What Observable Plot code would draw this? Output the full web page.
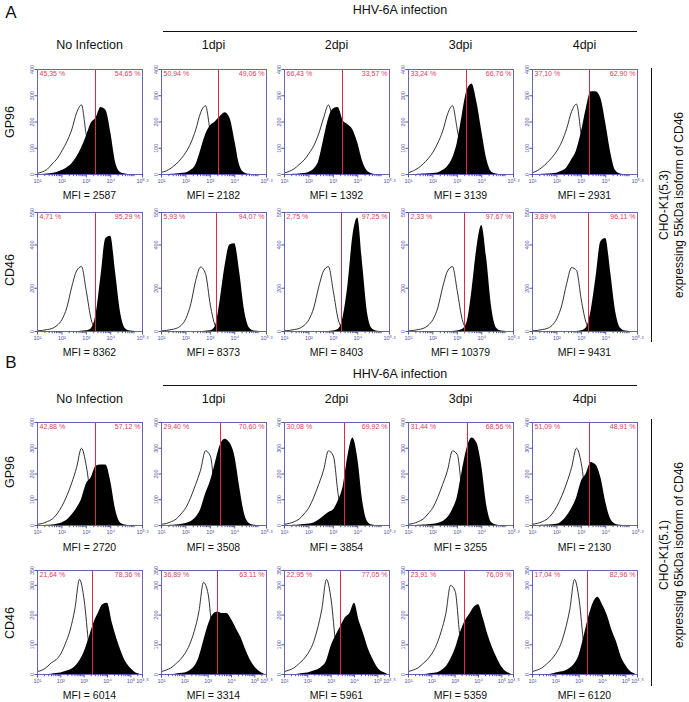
<!DOCTYPE html>
<html><head><meta charset="utf-8">
<script src="https://cdn.jsdelivr.net/npm/d3@7"></script>
<script src="https://cdn.jsdelivr.net/npm/@observablehq/plot@0.6"></script>
<style>
body{margin:0;background:#fff;font-family:"Liberation Sans",Arial,sans-serif;}
#fig{position:relative;width:689px;height:702px;overflow:hidden;background:#fff;}
.t{position:absolute;white-space:nowrap;color:#111;line-height:1;transform:translate(-50%,-50%);}
.r{transform:translate(-50%,-50%) rotate(-90deg);}
.hl{position:absolute;background:#111;}
svg.p{position:absolute;overflow:visible;}
</style></head><body><div id="fig"></div><script>
// ---- data ----
const grid = [1.0,1.2,1.4,1.6,1.8,2.0,2.2,2.4,2.6,2.8,3.0,3.2,3.4,3.6,3.8,4.0,4.2,4.4,4.6,4.8,5.0,5.2,5.4];
const columns = ["No Infection","1dpi","2dpi","3dpi","4dpi"];
const markers = ["GP96","CD46"];
const sections = ["A","B"];
const cellLines = [["CHO-K1(5.3)","expressing 55kDa isoform of CD46"],["CHO-K1(5.1)","expressing 65kDa isoform of CD46"]];
const infectionLabel = "HHV-6A infection";

// A, GP96
const openA_GP96 = [
 [5,10,20,40,60,90,125,170,235,265,150,75,30,8,2,0],
 [8,14,25,40,60,85,120,170,235,262,160,60,18,5,1,0],
 [6,12,22,38,55,80,110,155,215,265,190,80,25,6,1,0],
 [7,14,25,40,60,85,120,165,230,262,170,70,20,5,1,0],
 [7,15,28,45,65,90,125,175,240,268,150,60,18,5,1,0]];
const fillA_GP96 = [
 [0,0,2,4,8,15,25,40,65,100,145,195,215,255,245,160,45,8,2,0,0,0,0],
 [0,0,1,2,4,6,15,35,90,150,185,200,220,235,215,130,35,6,1,0,0,0,0],
 [0,0,1,2,4,8,20,50,130,210,250,255,205,190,170,120,50,12,2,0,0,0,0],
 [0,0,1,2,3,4,6,15,30,60,120,225,320,345,275,165,60,10,2,0,0,0,0],
 [0,0,1,2,3,5,12,25,55,90,160,250,315,315,290,195,85,15,2,0,0,0,0]];
// A, CD46
const openA_CD46 = [
 [3,5,9,14,28,55,110,205,280,300,185,55,11,2,0],
 [3,5,9,14,28,60,128,235,298,268,122,28,6,1,0],
 [3,5,9,14,28,55,110,205,280,300,185,55,11,2,0],
 [3,5,9,14,28,55,110,205,280,300,185,55,11,2,0],
 [3,5,9,14,28,60,122,222,295,283,145,39,7,1,0]];
const fillA_CD46 = [
 [0,0,0,0,0,0,0,0,0,1,3,13,78,255,430,440,270,88,13,2,0,0,0],
 [0,0,0,0,0,0,0,0,0,1,3,22,140,300,400,405,275,97,16,2,0,0,0],
 [0,0,0,0,0,0,0,0,0,0,2,9,65,215,440,525,310,85,11,1,0,0,0],
 [0,0,0,0,0,0,0,0,0,0,2,9,43,190,385,490,340,115,16,2,0,0,0],
 [0,0,0,0,0,0,0,0,0,0,3,16,95,250,415,430,275,95,16,2,0,0,0]];
// B, GP96
const openB_GP96 = [
 [5,8,15,25,45,75,115,165,225,300,230,100,30,8,2,0],
 [5,8,15,25,45,70,110,160,215,290,270,120,35,8,2,0],
 [5,8,15,25,45,70,110,160,215,290,270,120,35,8,2,0],
 [5,8,15,25,45,70,110,160,215,290,275,125,35,8,2,0],
 [5,8,15,25,45,75,115,165,225,300,240,100,30,8,2,0]];
const fillB_GP96 = [
 [0,0,1,2,5,10,20,40,65,100,160,185,230,235,235,170,60,10,2,0,0,0,0],
 [0,0,1,2,4,8,15,30,60,120,170,240,310,335,320,270,150,45,8,1,0,0,0],
 [0,0,1,2,4,6,10,20,35,50,60,95,150,270,340,260,95,15,2,0,0,0,0],
 [0,0,1,2,3,5,8,15,30,60,110,210,300,340,320,230,80,12,2,0,0,0,0],
 [0,0,1,2,3,5,15,35,65,105,170,200,245,235,185,90,25,5,1,0,0,0,0]];
// B, CD46
const openB_CD46 = [
 [10,15,25,40,50,70,105,150,220,320,250,100,25,5,1,0],
 [10,15,22,35,50,70,100,145,210,310,270,120,30,6,1,0],
 [10,15,22,35,50,70,100,150,220,320,250,100,25,5,1,0],
 [10,15,22,35,50,70,100,145,205,300,280,130,35,6,1,0],
 [10,15,22,35,50,70,100,150,220,320,250,100,25,5,1,0]];
const fillB_CD46 = [
 [0,0,0,1,3,5,10,15,25,45,75,120,170,205,235,240,175,120,75,40,20,6,1],
 [0,0,0,1,3,5,12,25,55,110,165,200,210,205,205,185,155,125,85,50,25,10,2],
 [0,0,0,1,3,5,10,15,25,45,95,130,160,190,205,240,180,135,85,50,22,8,2],
 [0,0,0,0,1,3,5,12,25,50,85,135,175,200,225,235,190,135,90,55,25,8,2],
 [0,0,0,0,1,5,8,12,20,35,65,125,190,240,260,235,200,150,110,60,30,10,2]];

const pctA_GP96 = [["45,35 %","54,65 %"],["50,94 %","49,06 %"],["66,43 %","33,57 %"],["33,24 %","66,76 %"],["37,10 %","62,90 %"]];
const pctA_CD46 = [["4,71 %","95,29 %"],["5,93 %","94,07 %"],["2,75 %","97,25 %"],["2,33 %","97,67 %"],["3,89 %","96,11 %"]];
const pctB_GP96 = [["42,88 %","57,12 %"],["29,40 %","70,60 %"],["30,08 %","69,92 %"],["31,44 %","68,56 %"],["51,09 %","48,91 %"]];
const pctB_CD46 = [["21,64 %","78,36 %"],["36,89 %","63,11 %"],["22,95 %","77,05 %"],["23,91 %","76,09 %"],["17,04 %","82,96 %"]];

const mfiA_GP96 = [2587,2182,1392,3139,2931];
const mfiA_CD46 = [8362,8373,8403,10379,9431];
const mfiB_GP96 = [2720,3508,3854,3255,2130];
const mfiB_CD46 = [6014,3314,5961,5359,6120];

// gate position (log10 fluorescence) of the red marker
const gateA_GP96 = [3.37,3.35,3.38,3.38,3.34];
const gateA_CD46 = [3.37,3.25,3.34,3.30,3.30];
const gateB_GP96 = [3.38,3.42,3.46,3.42,3.34];
const gateB_CD46 = [3.36,3.40,3.41,3.40,3.36];

const yTicksGP96 = [0,100,200,300,400];
const yTicksA_CD46 = [0,200,400,550];
const yTicksB_CD46 = [0,100,200,300,350];
const xMaxA = 5.3, xMaxB2 = 5.5;

// ---- layout ----
const RED = "#e23c5c", RULE = "#dc2a44", BLUE = "#6666b0", BLUE_T = "#5252a4";
const fig = document.getElementById("fig");
function txt(s, x, y, size, rot, extra) {
  const d = document.createElement("div");
  d.className = "t" + (rot ? " r" : "");
  d.textContent = s;
  d.style.left = x + "px"; d.style.top = y + "px"; d.style.fontSize = size + "px";
  if (extra) Object.assign(d.style, extra);
  fig.appendChild(d);
}
function hline(x1, x2, y) { const d = document.createElement("div"); d.className = "hl";
  Object.assign(d.style, {left: x1 + "px", top: y + "px", width: (x2 - x1) + "px", height: "1.3px"}); fig.appendChild(d); }
function vline(x, y1, y2) { const d = document.createElement("div"); d.className = "hl";
  Object.assign(d.style, {left: x + "px", top: y1 + "px", width: "1.3px", height: (y2 - y1) + "px"}); fig.appendChild(d); }

const supMap = {"0":"⁰","1":"¹","2":"²","3":"³","4":"⁴","5":"⁵","6":"⁶","7":"⁷","8":"⁸","9":"⁹",".":"·"};
const fmtX = d => "10" + String(d).split("").map(c => supMap[c] || c).join("");
const minorTicks = [];
for (let e = 1; e <= 5; e++) for (let k = 2; k <= 9; k++) minorTicks.push(Math.log10(k) + e);

const colLeft = [37, 161, 284, 408, 532];
const FW = 105;

function panel(left, top, h, xmax, ymax, yticks, open, fill, gate, pct) {
  const ml = 14, mr = 10, mt = 3, mb = 14;
  const pts = grid.map((x, i) => ({x, o: open[i], f: fill[i]}));
  const lineData = pts.filter((d, i) => i < open.length);
  const fillData = pts.filter(d => d.x <= xmax + 0.2);
  const major = xmax === 5.5 ? [1,2,3,4,5,5.5] : [1,2,3,4,5.3];
  const minor = minorTicks.filter(t => t < xmax - 0.05);
  const svg = Plot.plot({
    width: FW + ml + mr, height: h + mt + mb,
    marginLeft: ml, marginRight: mr, marginTop: mt, marginBottom: mb,
    x: {domain: [1, xmax], axis: null},
    y: {domain: [0, ymax], axis: null},
    style: {background: "none", fontFamily: "Liberation Sans, Arial, sans-serif", overflow: "visible"},
    marks: [
      Plot.line(lineData, {x: "x", y: "o", stroke: "#1a1a1a", strokeWidth: 0.9, curve: "monotone-x", clip: true}),
      Plot.areaY(fillData, {x: "x", y: "f", fill: "#000", curve: "monotone-x", clip: true}),
      Plot.ruleX([gate], {stroke: RULE, strokeWidth: 1, shapeRendering: "crispEdges"}),
      Plot.frame({stroke: BLUE, strokeWidth: 1, shapeRendering: "crispEdges"}),
      Plot.axisY({ticks: yticks, tickSize: 2.5, tickRotate: -90, fontSize: 5.5, color: BLUE_T, tickPadding: 1.5, label: null}),
      Plot.axisX({ticks: minor, tickSize: 2.2, fill: "none", stroke: BLUE_T, label: null}),
      Plot.axisX({ticks: major, tickSize: 3.5, tickFormat: fmtX, fontSize: 5.5, color: BLUE_T, tickPadding: 1, label: null}),
      Plot.text([pct[0]], {frameAnchor: "top-left", text: d => d, dx: 2, dy: 2, fill: RED, fontSize: 7, textAnchor: "start", lineAnchor: "top"}),
      Plot.text([pct[1]], {frameAnchor: "top-right", text: d => d, dx: -2, dy: 2, fill: RED, fontSize: 7, textAnchor: "end", lineAnchor: "top"})
    ]
  });
  svg.classList.add("p");
  svg.style.left = (left - ml) + "px";
  svg.style.top = (top - mt) + "px";
  fig.appendChild(svg);
}

const rowsSpec = [
  {top: 69, h: 105, xmax: xMaxA, ymax: 400, yt: yTicksGP96, open: openA_GP96, fill: fillA_GP96, gate: gateA_GP96, pct: pctA_GP96, mfi: mfiA_GP96, mfiY: 195, label: markers[0], labelY: 122},
  {top: 212, h: 119, xmax: xMaxA, ymax: 550, yt: yTicksA_CD46, open: openA_CD46, fill: fillA_CD46, gate: gateA_CD46, pct: pctA_CD46, mfi: mfiA_CD46, mfiY: 352, label: markers[1], labelY: 270},
  {top: 422, h: 103, xmax: xMaxA, ymax: 400, yt: yTicksGP96, open: openB_GP96, fill: fillB_GP96, gate: gateB_GP96, pct: pctB_GP96, mfi: mfiB_GP96, mfiY: 547, label: markers[0], labelY: 472},
  {top: 570, h: 104, xmax: xMaxB2, ymax: 350, yt: yTicksB_CD46, open: openB_CD46, fill: fillB_CD46, gate: gateB_CD46, pct: pctB_CD46, mfi: mfiB_CD46, mfiY: 695, label: markers[1], labelY: 623}
];

rowsSpec.forEach(r => {
  for (let c = 0; c < 5; c++) {
    panel(colLeft[c], r.top, r.h, r.xmax, r.ymax, r.yt, r.open[c], r.fill[c], r.gate[c], r.pct[c]);
    txt("MFI = " + r.mfi[c], colLeft[c] + FW / 2, r.mfiY, 10.5);
  }
  txt(r.label, 10, r.labelY, 12.5, true);
});

// section headers
const secY = [{letter: 12, inf: 10, line: 31, cols: 45, lineTop: 68, lineBot: 342, side: 205},
              {letter: 362, inf: 374, line: 385, cols: 399, lineTop: 419, lineBot: 686, side: 555}];
secY.forEach((s, i) => {
  txt(sections[i], 11, s.letter, 17);
  txt(infectionLabel, 400, s.inf, 12.5);
  hline(163, 637, s.line);
  columns.forEach((c, j) => txt(c, colLeft[j] + FW / 2, s.cols, 12.5));
  vline(650.5, s.lineTop, s.lineBot);
  txt(cellLines[i][0], 664, s.side, 12, true);
  txt(cellLines[i][1], 679, s.side, 12, true);
});
</script></body></html>
